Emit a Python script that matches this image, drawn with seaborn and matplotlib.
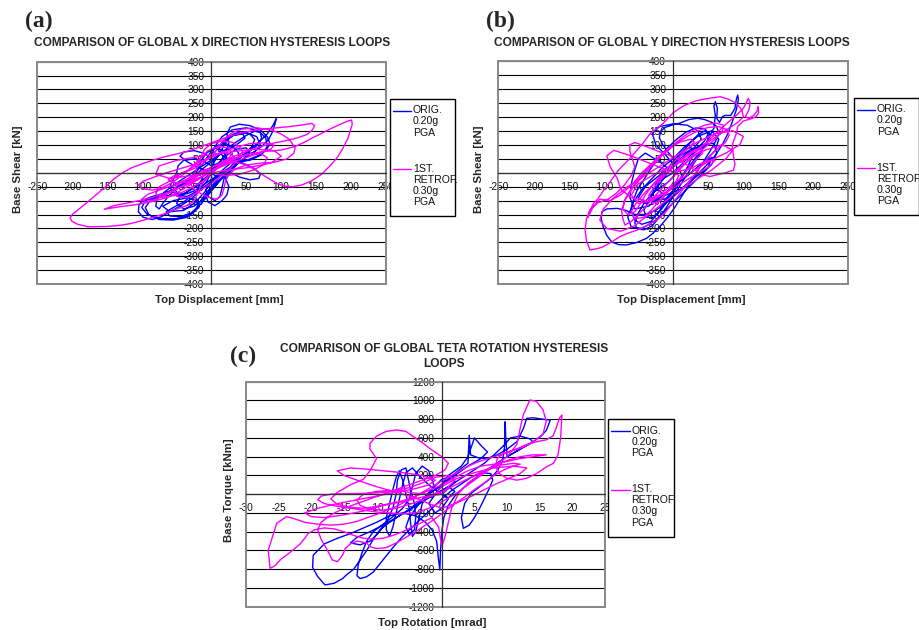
"""
plot.py

Three-panel comparison of global hysteresis loops (X direction, Y direction,
torsion) for the original building at 0.20g PGA and the first retrofit at
0.30g PGA. Loops were traced by hand from the published figure.

Output:
    out.png
"""

import numpy as np
import pandas as pd
import matplotlib
matplotlib.use("Agg")
import matplotlib.pyplot as plt
from matplotlib.lines import Line2D
from matplotlib.patches import Rectangle
import seaborn as sns

FIG_W, FIG_H = 920, 630
DPI = 100

ORIG_COLOR = "#0000ff"
RETRO_COLOR = "#ff00ff"
ORIG_LABEL = "ORIG.\n0.20g\nPGA"
RETRO_LABEL = "1ST.\nRETROF.\n0.30g\nPGA"

# ---------------------------------------------------------------------------
# DATA — (top displacement [mm], base shear [kN]) traced along each loop
# ---------------------------------------------------------------------------
X_ORIG = [
    (0, 0), (12, 25), (22, 55), (18, 80), (5, 90), (-8, 70), (-15, 40),
    (-20, 10), (-28, -20), (-40, -45), (-52, -60), (-48, -80), (-35, -85),
    (-20, -65), (-8, -35), (0, 0), (10, 30), (20, 70), (25, 110), (22, 140),
    (27, 165), (40, 175), (55, 170), (70, 155), (80, 130), (84, 105),
    (78, 80), (65, 60), (50, 45), (35, 30), (20, 10), (5, -15), (-10, -40),
    (-25, -75), (-40, -105), (-55, -125), (-65, -140), (-60, -155),
    (-45, -158), (-30, -145), (-18, -120), (-8, -90), (5, -50), (18, -10),
    (30, 25), (42, 55), (55, 85), (68, 110), (80, 140), (88, 170), (93, 195),
    (91, 175), (88, 150), (82, 120), (72, 95), (58, 70), (45, 48), (30, 20),
    (15, -5), (0, -30), (-15, -60), (-30, -95), (-45, -120), (-60, -140),
    (-72, -158), (-85, -168), (-98, -160), (-105, -140), (-104, -115),
    (-98, -98), (-85, -85), (-70, -75), (-55, -60), (-42, -40), (-30, -15),
    (-20, 10), (-12, 35), (-5, 60), (2, 85), (10, 100), (20, 105), (30, 95),
    (38, 75), (40, 50), (35, 25), (25, 0), (12, -25), (0, -50), (-10, -80),
    (-18, -110), (-25, -140), (-35, -160), (-55, -170), (-75, -168),
    (-90, -150), (-95, -125), (-88, -100), (-70, -80), (-50, -55),
    (-35, -30), (-22, -5), (-10, 20), (5, 50), (18, 80), (35, 110),
    (50, 135), (62, 150), (70, 145), (72, 125), (66, 100), (55, 78),
    (42, 58), (30, 40), (18, 15), (8, -10), (0, -35), (-8, -60), (-5, -85),
    (5, -100), (12, -85), (15, -55), (18, -20), (25, 15), (35, 45), (48, 70),
    (58, 95), (62, 120), (55, 140), (42, 148), (30, 138), (22, 115),
    (15, 85), (8, 55), (0, 25), (-10, 40), (-25, 50), (-40, 45), (-48, 25),
    (-50, 0), (-55, -25), (-60, -50), (-55, -70), (-40, -75), (-25, -55),
    (-12, -30), (-2, -5), (8, 20), (20, 35), (35, 40), (50, 30), (62, 15),
    (70, -5), (68, -20), (55, -25), (40, -15), (28, 0), (20, -20),
    (25, -50), (22, -80), (15, -100), (5, -118), (-5, -105), (-8, -80),
    (0, -50), (10, -20), (0, 0), (-20, 20), (-35, 40), (-45, 60), (-40, 75),
    (-25, 80), (-10, 70), (0, 50), (5, 25), (0, 0), (-15, -30), (-30, -60),
    (-45, -85), (-50, -110), (-40, -130), (-25, -120), (-12, -95),
    (0, -60), (15, -20), (30, 20), (45, 50), (55, 70), (50, 90), (35, 85),
    (20, 60), (8, 30), (-5, 0), (-20, -25), (-38, -45), (-52, -60),
    (-62, -85), (-70, -110), (-75, -130), (-80, -120), (-78, -95),
    (-68, -70), (-55, -45), (-40, -20), (-25, 5), (-10, 30), (5, 55),
    (22, 80), (38, 105), (48, 125), (45, 140), (32, 135), (20, 115),
    (10, 90), (0, 60), (5, 95), (15, 130), (30, 155), (50, 162), (68, 150),
    (78, 125), (80, 95), (72, 65), (55, 45), (35, 42), (18, 55), (10, 80),
    (15, 110), (30, 135), (50, 145), (65, 130), (70, 100), (62, 75),
    (45, 60), (25, 50), (5, 30), (-10, 0), (-20, -60), (-35, -75),
    (-55, -80), (-78, -85), (-95, -100), (-100, -125), (-92, -150),
    (-75, -165), (-50, -165), (-30, -150), (-18, -125), (-20, -100),
    (-35, -90), (-55, -100), (-70, -120), (-60, -140), (-40, -135),
    (-25, -110), (-10, -70), (0, -30), (0, 0),
]

X_RETRO = [
    (0, 0), (10, 20), (22, 45), (30, 70), (25, 90), (10, 95), (-5, 80),
    (-15, 55), (-25, 30), (-35, 5), (-48, -20), (-60, -40), (-72, -55),
    (-85, -62), (-98, -58), (-105, -44), (-98, -30), (-82, -15), (-65, 0),
    (-45, 15), (-25, 30), (-5, 50), (15, 72), (35, 92), (55, 105),
    (75, 108), (90, 100), (85, 85), (70, 72), (50, 55), (30, 38), (12, 20),
    (-5, 0), (-20, -25), (-35, -50), (-50, -72), (-68, -92), (-88, -105),
    (-110, -115), (-132, -122), (-154, -131), (-140, -118), (-120, -108),
    (-100, -98), (-80, -85), (-60, -68), (-40, -48), (-22, -25), (-5, 0),
    (12, 25), (30, 48), (50, 65), (72, 76), (100, 82), (120, 95),
    (135, 112), (144, 125), (158, 142), (172, 160), (185, 175), (195, 186),
    (201, 190), (202, 175), (199, 150), (196, 126), (190, 95), (182, 60),
    (172, 30), (158, -5), (143, -30), (129, -44), (117, -50), (105, -48),
    (95, -40), (85, -25), (72, -5), (60, 15), (45, 32), (30, 40), (15, 30),
    (5, 10), (-5, -15), (-15, -45), (-20, -75), (-25, -100), (-33, -116),
    (-50, -130), (-65, -145), (-81, -158), (-100, -172), (-115, -182),
    (-129, -188), (-150, -193), (-177, -194), (-192, -185), (-200, -175),
    (-203, -163), (-200, -150), (-190, -130), (-178, -105), (-165, -78),
    (-152, -50), (-140, -22), (-128, 0), (-115, 18), (-100, 32), (-85, 45),
    (-67, 58), (-50, 68), (-34, 78), (-18, 92), (0, 108), (15, 122),
    (29, 134), (45, 145), (62, 153), (85, 160), (110, 166), (130, 172),
    (144, 178), (148, 170), (145, 155), (137, 138), (122, 125), (105, 115),
    (85, 105), (65, 90), (45, 72), (25, 52), (8, 30), (-8, 8), (-22, -15),
    (-35, -38), (-50, -58), (-65, -78), (-80, -95), (-95, -105),
    (-100, -95), (-92, -78), (-75, -62), (-55, -45), (-35, -25), (-15, -5),
    (5, 15), (22, 35), (38, 55), (45, 75), (40, 95), (30, 110), (15, 115),
    (0, 105), (-10, 85), (-15, 60), (-18, 35), (-22, 10), (-28, -15),
    (-30, -40), (-25, -60), (-15, -75), (-2, -90), (8, -95), (15, -80),
    (18, -55), (20, -30), (25, -5), (35, 15), (50, 28), (70, 35), (90, 38),
    (108, 50), (118, 70), (120, 90), (112, 120), (100, 140), (85, 155),
    (65, 162), (45, 158), (30, 145), (20, 125), (12, 100), (5, 75),
    (-5, 50), (-15, 28), (-28, 12), (-42, 0), (-55, -12), (-62, -25),
    (-55, -35), (-40, -35), (-25, -25), (-10, -10), (0, 0), (20, -10),
    (40, -5), (60, 10), (75, 30), (80, 55), (70, 70), (50, 65), (30, 50),
    (10, 30), (-10, 10), (-30, -15), (-45, -35), (-55, -60), (-50, -85),
    (-35, -90), (-20, -70), (-5, -45), (10, -20), (25, 10), (35, 40),
    (30, 65), (15, 75), (0, 60), (-15, 40), (-30, 15), (-45, -5),
    (-60, -30), (-75, -50), (-80, -75), (-70, -90), (-50, -80), (-30, -55),
    (-12, -30), (0, 0), (-30, -10), (-60, -20), (-80, -5), (-75, 25),
    (-50, 45), (-15, 60), (25, 75), (60, 85), (90, 80), (100, 60),
    (85, 35), (55, 20), (25, 10), (0, 0),
]

Y_ORIG = [
    (0, 0), (10, 25), (22, 55), (35, 88), (45, 115), (50, 140), (45, 158),
    (32, 160), (18, 145), (5, 120), (-8, 90), (-20, 55), (-32, 15),
    (-42, -25), (-52, -65), (-58, -105), (-60, -140), (-55, -170),
    (-45, -185), (-32, -175), (-22, -145), (-12, -105), (0, -60), (12, -15),
    (25, 30), (38, 75), (50, 118), (58, 160), (60, 205), (58, 240),
    (60, 254), (63, 230), (62, 195), (66, 180), (70, 200), (74, 205),
    (82, 205), (88, 230), (90, 262), (92, 278), (93, 262), (90, 225),
    (84, 180), (78, 140), (70, 100), (60, 62), (48, 28), (35, -5),
    (20, -40), (5, -75), (-10, -108), (-25, -135), (-40, -150), (-55, -150),
    (-68, -135), (-80, -128), (-95, -130), (-102, -140), (-103, -165),
    (-100, -195), (-95, -225), (-88, -248), (-78, -258), (-67, -259),
    (-52, -250), (-38, -235), (-29, -217), (-18, -190), (-8, -160),
    (2, -125), (12, -85), (22, -45), (32, -5), (42, 35), (52, 75),
    (60, 110), (65, 140), (62, 165), (55, 180), (45, 190), (35, 195),
    (22, 190), (10, 178), (-2, 170), (-12, 162), (-18, 148), (-20, 125),
    (-15, 100), (-8, 75), (0, 50), (5, 20), (2, -10), (-8, -35), (-20, -55),
    (-32, -80), (-42, -110), (-50, -145), (-55, -180), (-52, -200),
    (-42, -205), (-30, -190), (-20, -160), (-10, -125), (0, -85),
    (10, -45), (20, -5), (30, 35), (40, 75), (48, 110), (52, 140),
    (45, 150), (35, 135), (25, 110), (15, 80), (5, 45), (-5, 10),
    (-15, -25), (-25, -60), (-35, -100), (-42, -135), (-38, -160),
    (-28, -160), (-18, -135), (-8, -100), (2, -60), (10, -25), (18, 10),
    (25, 45), (30, 75), (25, 90), (15, 80), (5, 55), (-5, 25), (-15, -5),
    (-25, -40), (-30, -75), (-25, -100), (-12, -95), (0, -70), (8, -40),
    (12, -10), (8, 15), (0, 0), (-20, 40), (-40, 70), (-50, 50), (-55, 10),
    (-60, -40), (-62, -90), (-55, -130), (-35, -120), (-15, -80), (5, -40),
    (25, 0), (45, 40), (60, 80), (65, 120), (55, 150), (35, 130), (15, 90),
    (0, 50), (-15, 20), (-30, -20), (-45, -60), (-58, -110), (-65, -160),
    (-60, -195), (-45, -200), (-25, -170), (-5, -120), (15, -70),
    (35, -20), (55, 30), (62, 70), (58, 105), (40, 100), (20, 70), (0, 30),
    (-10, 60), (-25, 100), (-30, 140), (-20, 165), (0, 175), (20, 170),
    (35, 150), (40, 120), (30, 90), (10, 60), (-5, 25), (-20, -10),
    (-40, -50), (-50, -90), (-40, -110), (-20, -90), (0, -50), (20, -10),
    (40, 30), (55, 55), (50, 20), (30, -20), (10, -60), (-10, -80),
    (-25, -60), (-20, -30), (0, 0),
]

Y_RETRO = [
    (0, 0), (15, 30), (30, 60), (45, 90), (60, 120), (70, 150), (72, 170),
    (60, 178), (45, 170), (30, 155), (15, 130), (0, 100), (-15, 65),
    (-30, 25), (-45, -15), (-58, -55), (-68, -95), (-74, -135),
    (-72, -165), (-69, -188), (-60, -175), (-50, -150), (-38, -118),
    (-25, -80), (-10, -40), (5, 0), (20, 40), (35, 80), (50, 115),
    (65, 150), (78, 180), (90, 205), (100, 230), (105, 255), (107, 266),
    (110, 250), (108, 225), (103, 200), (108, 195), (115, 205), (120, 222),
    (121, 236), (122, 215), (118, 200), (110, 192), (100, 185), (92, 165),
    (90, 140), (86, 112), (84, 93), (86, 60), (88, 30), (86, 9), (75, 0),
    (62, -8), (52, -14), (40, -5), (30, 10), (18, 30), (5, 50), (-8, 65),
    (-20, 75), (-30, 85), (-40, 95), (-55, 108), (-62, 100), (-62, 75),
    (-58, 45), (-55, 20), (-60, -10), (-70, -45), (-82, -75), (-95, -98),
    (-108, -108), (-118, -130), (-124, -165), (-126, -205), (-124, -245),
    (-119, -277), (-108, -272), (-100, -265), (-88, -248), (-76, -229),
    (-64, -216), (-52, -206), (-38, -190), (-24, -170), (-12, -145),
    (-5, -122), (5, -90), (15, -55), (28, -15), (40, 25), (52, 60),
    (65, 90), (75, 110), (80, 135), (76, 155), (65, 165), (50, 162),
    (35, 150), (20, 130), (5, 105), (-10, 75), (-25, 40), (-40, 5),
    (-52, -30), (-62, -65), (-70, -100), (-72, -130), (-65, -150),
    (-55, -140), (-48, -115), (-40, -80), (-30, -45), (-18, -10), (-5, 25),
    (8, 55), (20, 85), (30, 110), (25, 120), (10, 110), (-5, 90),
    (-20, 60), (-32, 30), (-45, 0), (-58, -40), (-75, -80), (-90, -100),
    (-105, -95), (-115, -125), (-122, -160), (-120, -140), (-114, -110),
    (-109, -98), (-100, -65), (-90, -32), (-78, 10), (-62, 51), (-45, 100),
    (-33, 140), (-15, 175), (0, 215), (15, 240), (33, 258), (50, 266),
    (67, 272), (80, 262), (90, 248), (98, 225), (100, 200), (92, 180),
    (80, 160), (65, 135), (50, 110), (35, 85), (20, 60), (5, 30),
    (-10, 0), (-25, -35), (-40, -70), (-52, -105), (-60, -140),
    (-55, -165), (-42, -160), (-30, -130), (-18, -95), (-5, -60), (8, -25),
    (20, 10), (32, 45), (42, 70), (38, 85), (25, 75), (12, 50), (0, 20),
    (-12, -10), (-25, -45), (-35, -80), (-30, -110), (-18, -100),
    (-8, -70), (2, -40), (8, -10), (0, 0), (-30, 30), (-60, 60), (-85, 80),
    (-95, 60), (-90, 20), (-80, -20), (-75, -60), (-60, -90), (-40, -100),
    (-20, -80), (0, -40), (25, 0), (50, 40), (75, 70), (95, 100),
    (100, 130), (85, 150), (60, 140), (35, 110), (10, 70), (-15, 30),
    (-40, -10), (-65, -50), (-85, -90), (-100, -130), (-105, -170),
    (-95, -200), (-75, -210), (-55, -190), (-35, -150), (-15, -110),
    (5, -70), (30, -30), (55, 10), (75, 50), (85, 80), (70, 100), (45, 80),
    (20, 50), (-5, 20), (-30, -10), (-50, -40), (-60, -80), (-50, -110),
    (-30, -100), (-10, -70), (10, -40), (30, -10), (50, 20), (60, 45),
    (45, 40), (25, 15), (0, 0),
]

# (top rotation [mrad], base torque [kNm])
T_ORIG = [
    (0, 0), (1, 60), (2, 130), (1.5, 190), (0, 160), (-1, 90), (-2, 20),
    (-3, -60), (-4, -150), (-5, -250), (-5.5, -350), (-5, -430),
    (-4.2, -380), (-4, -250), (-4.2, -100), (-4.8, 50), (-5.2, 180),
    (-5.5, 280), (-6.2, 260), (-6.8, 150), (-7, 0), (-7.5, -150),
    (-8.5, -300), (-9.8, -420), (-11, -500), (-12.5, -540), (-14, -520),
    (-13, -460), (-11, -400), (-9, -330), (-7, -250), (-5, -170),
    (-3, -80), (-1, 0), (1, 80), (3, 170), (5, 260), (6.5, 330), (8, 420),
    (9.5, 520), (10.5, 600), (12, 620), (13.5, 590), (14, 555),
    (12.5, 500), (11, 440), (9.5, 380), (8, 310), (6.5, 240), (5, 160),
    (3.5, 80), (2, -20), (1, -120), (0.3, -250), (0, -400), (-0.2, -600),
    (-0.3, -809), (-0.5, -700), (-0.8, -500), (-1.5, -380), (-2.5, -300),
    (-4, -230), (-6, -200), (-8, -230), (-10, -300), (-12, -360),
    (-14, -420), (-16, -470), (-18, -530), (-19.7, -650), (-19.8, -780),
    (-19, -880), (-17.9, -968), (-16.5, -950), (-15.2, -900),
    (-14.6, -860), (-13.5, -800), (-12.5, -700), (-11.5, -600),
    (-10.5, -480), (-9.5, -380), (-8, -300), (-6.5, -230), (-5, -160),
    (-3.5, -80), (-2, 0), (-0.5, 80), (1, 160), (2.5, 250), (4, 330),
    (4.2, 630), (4.4, 420), (5.5, 390), (7, 380), (8.5, 420), (10, 480),
    (11.5, 560), (12.5, 700), (13, 809), (14, 815), (15.5, 800),
    (16.6, 791), (16.3, 730), (16, 680), (15.2, 620), (14, 560),
    (12.5, 500), (11, 440), (10, 400), (9.8, 600), (9.7, 773), (9.6, 500),
    (9.3, 350), (8.5, 250), (7.5, 170), (6, 90), (4.5, 10), (3.5, -100),
    (3, -250), (3.3, -364), (4.2, -330), (5, -250), (5.8, -150),
    (6.5, -50), (7.2, 50), (7.8, 150), (7.5, 220), (6, 230), (4.5, 180),
    (3, 110), (1.5, 40), (0, -50), (-1.5, -150), (-3, -250), (-4.5, -350),
    (-6, -450), (-7.5, -570), (-9, -700), (-10.5, -830), (-11.5, -880),
    (-12.5, -900), (-13, -870), (-12.8, -750), (-12.2, -620),
    (-11.5, -500), (-10.5, -400), (-9, -320), (-7.5, -240), (-6, -150),
    (-5, -50), (-4.5, 80), (-4, 220), (-3, 300), (-2, 250), (-1.5, 150),
    (-1, 50), (0, 0), (1, -40), (2, 30), (1, 80), (-0.5, 20), (0, 0),
    (-2, 100), (-3.5, 200), (-4.5, 280), (-5.5, 230), (-6, 100),
    (-6.5, -50), (-7, -200), (-7.5, -350), (-8, -450), (-8.5, -380),
    (-8.5, -250), (-8, -100), (-7.5, 50), (-7, 180), (-6.5, 250),
    (-6, 150), (-5.5, 0), (-5, -150), (-4.8, -300), (-4.5, -450),
    (-4, -400), (-3.5, -250), (-3, -100), (-2, 0), (0, 100), (2, 200),
    (4, 300), (6, 380), (7, 450), (6, 520), (5, 600), (4.5, 500), (4, 400),
    (3, 300), (1, 200), (0, 100), (-1, 0), (-2, -100), (-1, -200),
    (0, -150), (1, -50), (0, 0),
]

T_RETRO = [
    (0, 0), (1, 80), (2, 150), (1, 200), (-1, 180), (-3, 120), (-5, 70),
    (-7, 40), (-9, 20), (-11, 10), (-13, 8), (-15, 5), (-17, 0),
    (-18.5, -20), (-19, -60), (-18, -100), (-16, -130), (-14, -150),
    (-12, -170), (-10, -190), (-8, -200), (-6, -210), (-4, -200),
    (-2, -150), (0, -80), (2, 0), (4, 100), (6, 200), (8, 300), (10, 400),
    (11.5, 530), (12, 700), (12.5, 850), (13.5, 1005), (14.5, 990),
    (15.5, 900), (16, 780), (15.5, 640), (14, 560), (12.5, 500),
    (11, 470), (9.5, 440), (8.5, 380), (8.2, 300), (8.8, 220), (10, 170),
    (11.5, 150), (13, 170), (14.5, 220), (16, 290), (17.1, 330),
    (17.8, 420), (18.2, 600), (18.4, 845), (18, 810), (17.5, 700),
    (17, 620), (16, 580), (14.5, 560), (13, 530), (11, 470), (9, 420),
    (7, 380), (5, 330), (3, 260), (1, 180), (-1, 100), (-3, 20),
    (-5, -60), (-7, -130), (-9, -190), (-11, -240), (-13, -290),
    (-15, -320), (-17, -330), (-19, -320), (-21, -300), (-22.8, -257),
    (-23.8, -240), (-25.3, -311), (-26.1, -489), (-26.6, -600),
    (-26.3, -791), (-25.5, -760), (-24.8, -702), (-23.8, -650),
    (-22.8, -595), (-21.7, -530), (-21, -470), (-20.5, -420),
    (-19.5, -380), (-18, -360), (-16.5, -370), (-15, -400), (-13.5, -440),
    (-12, -470), (-10.5, -480), (-9, -470), (-7.5, -440), (-6, -400),
    (-4.5, -350), (-3, -300), (-1.5, -250), (-0.5, -350), (0, -560),
    (0.5, -450), (1, -300), (1.5, -150), (2.5, 0), (4, 120), (6, 220),
    (8, 300), (10, 360), (12, 400), (14, 420), (16, 420), (14, 400),
    (12, 380), (10, 350), (8, 320), (6, 300), (4, 250), (2, 180), (0, 100),
    (-2, 40), (-4, -20), (-6, -70), (-8, -100), (-10, -130), (-12, -150),
    (-14, -140), (-16, -110), (-17, -50), (-16, 20), (-14, 100),
    (-12, 160), (-11, 250), (-10, 380), (-11, 480), (-11, 543),
    (-10, 620), (-8.5, 670), (-6.9, 685), (-5.5, 670), (-4.5, 620),
    (-3, 550), (-1.5, 470), (0, 400), (1, 330), (0.5, 260), (-1, 200),
    (-3, 150), (-5, 100), (-7, 50), (-9, 0), (-11, -50), (-13, -100),
    (-15, -150), (-17, -220), (-18.5, -300), (-19, -380), (-18.5, -480),
    (-17.5, -600), (-16.8, -700), (-16, -720), (-15.2, -650),
    (-14.8, -580), (-14, -530), (-13, -500), (-11.5, -520), (-11, -560),
    (-10, -580), (-8.5, -570), (-7, -520), (-5.5, -460), (-4, -400),
    (-2.5, -330), (-1, -260), (0.5, -180), (2, -100), (3.5, -30), (5, 50),
    (6.5, 120), (8, 200), (9.5, 260), (11, 300), (12, 320), (11, 330),
    (9, 310), (7, 270), (5, 200), (3, 130), (1, 60), (-1, 0), (-3, -60),
    (-5, -110), (-7, -150), (-9, -170), (-11, -160), (-12.5, -120),
    (-13, -60), (-12, 0), (-10, 30), (-8, 40), (-6, 30), (-4, 10),
    (-2, 0), (0, 0), (-3, -30), (-6, -80), (-9, -120), (-12, -180),
    (-15, -220), (-18, -250), (-20, -240), (-21, -200), (-19, -150),
    (-16, -100), (-13, -60), (-10, -20), (-7, 20), (-4, 60), (-2, 100),
    (-1, 150), (-3, 200), (-6, 230), (-9, 250), (-12, 270), (-14, 280),
    (-16, 250), (-15, 200), (-13, 150), (-10, 80), (-7, 20), (-4, -40),
    (-2, -100), (0, -150), (2, -100), (4, -40), (6, 30), (8, 100),
    (10, 160), (12, 220), (13, 280), (11, 300), (8, 280), (5, 230),
    (2, 160), (0, 80), (-1, 0), (0, 0),
]

# ---------------------------------------------------------------------------
# LAYOUT — everything in pixels of the 920x630 canvas
# ---------------------------------------------------------------------------
PANELS = [
    dict(orig=X_ORIG, retro=X_RETRO, box=(37.3, 61.7, 385.7, 284.0),
         xlim=(-250, 250), xstep=50, ylim=(-400, 400), ystep=50,
         letter="(a)", letter_xy=(25, 21.5),
         title="COMPARISON OF GLOBAL X DIRECTION HYSTERESIS LOOPS",
         title_xy=(212, 43),
         xlabel="Top Displacement [mm]", xlabel_xy=(219.5, 300),
         ylabel="Base Shear [kN]", ylabel_xy=(18.5, 169),
         legend=(390, 99, 455, 216)),
    dict(orig=Y_ORIG, retro=Y_RETRO, box=(498.3, 61.0, 848.3, 284.3),
         xlim=(-250, 250), xstep=50, ylim=(-400, 400), ystep=50,
         letter="(b)", letter_xy=(486, 21.5),
         title="COMPARISON OF GLOBAL Y DIRECTION HYSTERESIS LOOPS",
         title_xy=(672, 43),
         xlabel="Top Displacement [mm]", xlabel_xy=(681, 300),
         ylabel="Base Shear [kN]", ylabel_xy=(479, 169),
         legend=(853.7, 98, 919.3, 215)),
    dict(orig=T_ORIG, retro=T_RETRO, box=(246.0, 381.7, 605.0, 606.7),
         xlim=(-30, 25), xstep=5, ylim=(-1200, 1200), ystep=200,
         letter="(c)", letter_xy=(230, 356),
         title="COMPARISON OF GLOBAL TETA ROTATION HYSTERESIS\nLOOPS",
         title_xy=(444, 356.5),
         xlabel="Top Rotation [mrad]", xlabel_xy=(432, 623),
         ylabel="Base Torque [kNm]", ylabel_xy=(229, 490),
         legend=(608.3, 419.3, 674, 536.7)),
]

sns.set_style("white")
plt.rcParams["font.family"] = ["Liberation Sans", "DejaVu Sans"]
plt.rcParams["axes.unicode_minus"] = False


def fx(px):
    return px / FIG_W


def fy(py):
    return 1 - py / FIG_H


def draw_legend(fig, left, top, right, bottom):
    fig.add_artist(Rectangle((fx(left), fy(bottom)), fx(right) - fx(left),
                             fy(top) - fy(bottom), transform=fig.transFigure,
                             facecolor="white", edgecolor="black", lw=1.0))
    for color, label, off in [(ORIG_COLOR, ORIG_LABEL, 12),
                              (RETRO_COLOR, RETRO_LABEL, 70.5)]:
        y = top + off
        fig.add_artist(Line2D([fx(left + 3), fx(left + 21.5)], [fy(y), fy(y)],
                              transform=fig.transFigure, color=color, lw=1.0))
        fig.text(fx(left + 23), fy(y - 5.8), label, ha="left", va="top",
                 fontsize=7.6, linespacing=1.15, color="#111111")


def draw_panel(fig, p):
    left, top, right, bottom = p["box"]
    ax = fig.add_axes([fx(left), fy(bottom), fx(right) - fx(left),
                       fy(top) - fy(bottom)])

    for pts, color in [(p["orig"], ORIG_COLOR), (p["retro"], RETRO_COLOR)]:
        df = pd.DataFrame(pts, columns=["disp", "force"])
        sns.lineplot(data=df, x="disp", y="force", sort=False, estimator=None,
                     color=color, lw=1.0, ax=ax)

    ax.set_xlim(*p["xlim"])
    ax.set_ylim(*p["ylim"])
    ax.set_xticks(np.arange(p["xlim"][0], p["xlim"][1] + 1, p["xstep"]))
    ax.set_yticks(np.arange(p["ylim"][0], p["ylim"][1] + 1, p["ystep"]))

    # Excel style: axes cross at the origin, grey plot-area border
    ax.spines["left"].set_position(("data", 0))
    ax.spines["bottom"].set_position(("data", 0))
    ax.spines["top"].set_visible(False)
    ax.spines["right"].set_visible(False)
    for s in ("left", "bottom"):
        ax.spines[s].set_color("#333333")
        ax.spines[s].set_linewidth(0.9)
    ax.add_patch(Rectangle((0, 0), 1, 1, transform=ax.transAxes, fill=False,
                           edgecolor="#888888", lw=1.4, clip_on=False,
                           zorder=0.8))
    ax.yaxis.grid(True, color="black", lw=0.8)
    ax.xaxis.grid(False)

    ax.tick_params(axis="x", direction="inout", length=4, pad=4.5,
                   labelsize=7.3, colors="#333333", labelcolor="#111111")
    ax.tick_params(axis="y", direction="out", length=4, pad=1.2,
                   labelsize=7.3, colors="#333333", labelcolor="#111111")

    ax.set_xlabel(p["xlabel"], fontsize=8.2, fontweight="bold")
    ax.set_ylabel(p["ylabel"], fontsize=8.2, fontweight="bold")
    ax.xaxis.set_label_coords(fx(p["xlabel_xy"][0]), fy(p["xlabel_xy"][1]),
                              transform=fig.transFigure)
    ax.yaxis.set_label_coords(fx(p["ylabel_xy"][0]), fy(p["ylabel_xy"][1]),
                              transform=fig.transFigure)
    ax.xaxis.label.set_va("center")
    ax.yaxis.label.set_va("center")

    fig.text(fx(p["title_xy"][0]), fy(p["title_xy"][1]), p["title"],
             ha="center", va="center", fontsize=8.6, fontweight="bold",
             linespacing=1.25)
    fig.text(fx(p["letter_xy"][0]), fy(p["letter_xy"][1]), p["letter"],
             ha="left", va="center", fontsize=17, fontweight="bold",
             family=["Liberation Serif", "DejaVu Serif"])

    draw_legend(fig, *p["legend"])
    return ax


def main():
    fig = plt.figure(figsize=(FIG_W / DPI, FIG_H / DPI), dpi=DPI)
    fig.patch.set_facecolor("white")
    for p in PANELS:
        draw_panel(fig, p)
    fig.savefig("out.png", dpi=DPI, facecolor="white")
    plt.close(fig)


if __name__ == "__main__":
    main()
